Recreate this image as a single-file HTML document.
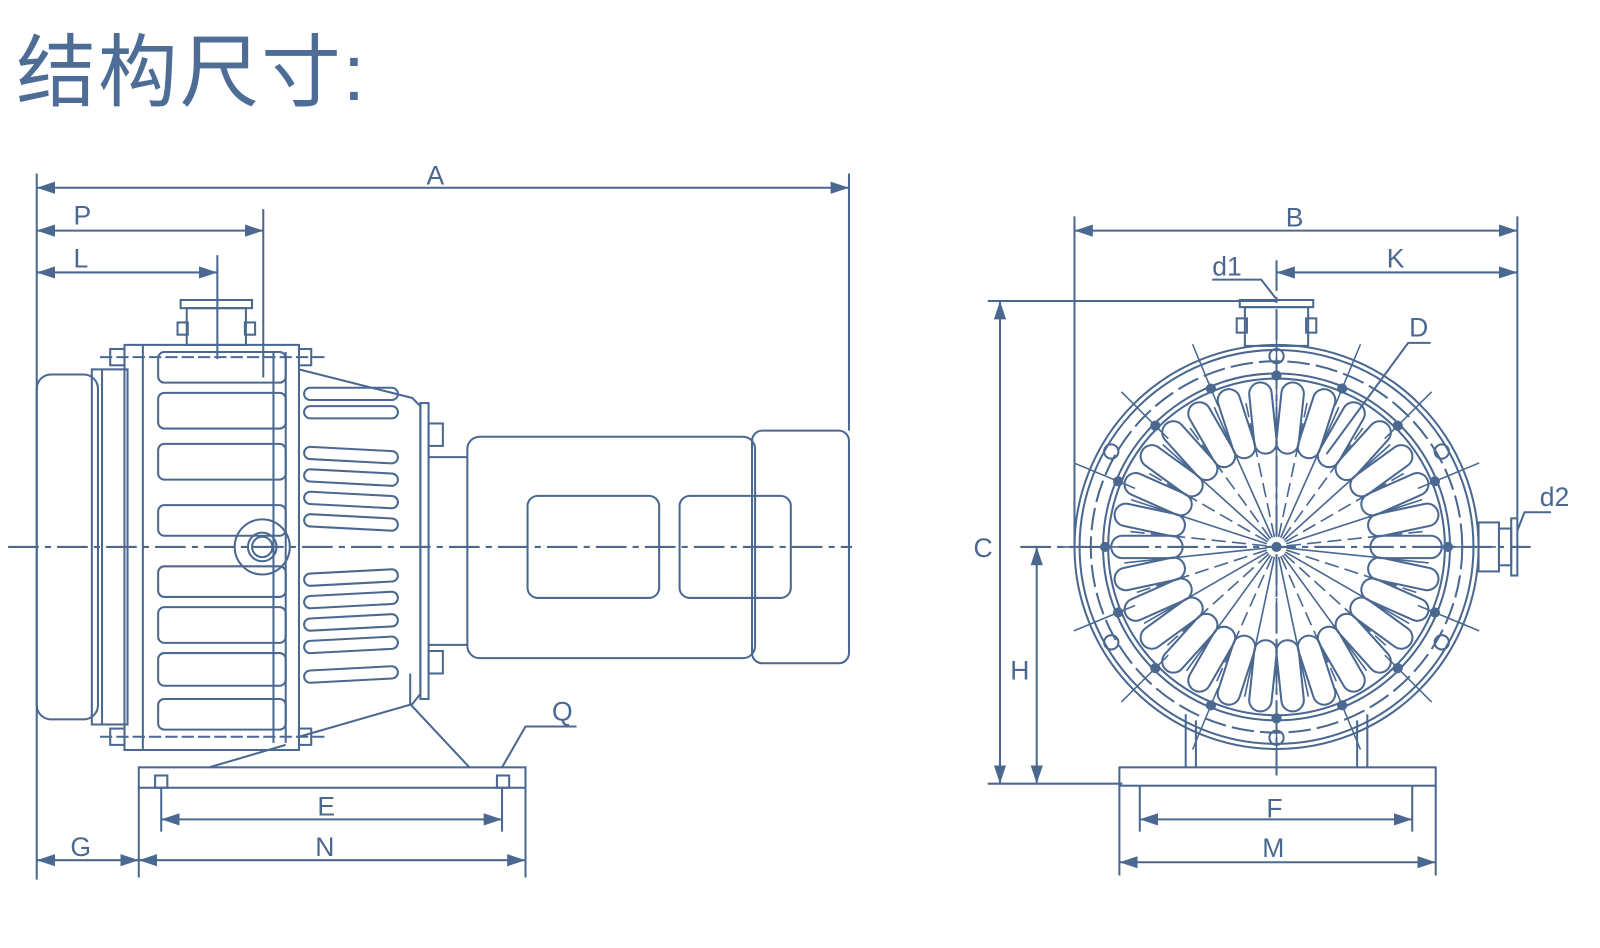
<!DOCTYPE html>
<html><head><meta charset="utf-8"><style>
html,body{margin:0;padding:0;background:#fff;width:1600px;height:948px;overflow:hidden}
#w{position:absolute;left:0;top:0;width:1568px;height:929px;transform:scale(1.0204);transform-origin:0 0}
.t{position:absolute;left:16px;top:32px;font-family:"Liberation Sans","Noto Sans CJK SC",sans-serif;font-size:78px;color:#4d6c96;letter-spacing:2px;line-height:1}
svg{position:absolute;left:0;top:0}
text{font-family:"Liberation Sans",sans-serif;font-size:26px;fill:#4a6890}
</style></head><body><div id="w">
<div class="t">结构尺寸:</div>
<svg width="1568" height="929" viewBox="0 0 1568 929">
<defs><marker id="ar" markerWidth="10" markerHeight="8" refX="9" refY="4" orient="auto-start-reverse"><path d="M0,1 L9,4 L0,7" fill="#4a6890"/></marker></defs>
<g id="g" stroke="#4a6890" stroke-width="2" fill="none">
<line x1="8" y1="536" x2="835" y2="536" stroke-dasharray="30,6,6,6"/>
<rect x="36" y="367" width="60" height="338" rx="14"/>
<rect x="90" y="362" width="35" height="348"/>
<line x1="100" y1="362" x2="100" y2="710"/>
<rect x="122" y="338" width="171" height="397"/>
<line x1="140" y1="338" x2="140" y2="735"/>
<line x1="268" y1="345" x2="268" y2="728"/>
<line x1="280" y1="345" x2="280" y2="728"/>
<rect x="108" y="342" width="14" height="16"/><rect x="293" y="342" width="12" height="16"/>
<rect x="108" y="714" width="14" height="16"/><rect x="293" y="714" width="12" height="16"/>
<line x1="98" y1="350" x2="318" y2="350" stroke-dasharray="12,4"/>
<line x1="98" y1="722" x2="318" y2="722" stroke-dasharray="12,4"/>
<rect x="177" y="294" width="70" height="8"/>
<rect x="183" y="302" width="58" height="36"/>
<rect x="174" y="316" width="10" height="12"/><rect x="240" y="316" width="10" height="12"/>
<line x1="213" y1="250" x2="213" y2="352"/>
<line x1="258" y1="205" x2="258" y2="370"/>
<circle cx="257" cy="536" r="27"/><circle cx="257" cy="536" r="14"/><circle cx="257" cy="536" r="10"/>
<path d="M293,362 L404,390 L412,398 L412,680 L404,690 L293,722"/>
<rect x="412" y="395" width="8" height="290"/>
<rect x="420" y="415" width="14" height="22"/><rect x="420" y="638" width="14" height="22"/>
<path d="M420,440 L420,448 L458,448 M420,632 L458,632"/>
<path d="M402,660 L402,690 L460,752"/>
<path d="M205,752 L280,730"/>
<rect x="458" y="428" width="282" height="217" rx="12"/>
<rect x="737" y="422" width="95" height="228" rx="10"/>
<rect x="517" y="486" width="129" height="100" rx="10"/>
<rect x="666" y="486" width="109" height="100" rx="10"/>
<rect x="136" y="752" width="379" height="20"/>
<rect x="152" y="760" width="12" height="12"/><rect x="487" y="760" width="12" height="12"/>
<line x1="515" y1="752" x2="515" y2="860"/><line x1="136" y1="772" x2="136" y2="860"/>
<line x1="158" y1="772" x2="158" y2="815"/><line x1="492" y1="772" x2="492" y2="815"/>
<line x1="36" y1="170" x2="36" y2="862"/>
<line x1="832" y1="170" x2="832" y2="422"/>
<line x1="36" y1="184" x2="832" y2="184" marker-start="url(#ar)" marker-end="url(#ar)"/>
<line x1="36" y1="226" x2="258" y2="226" marker-start="url(#ar)" marker-end="url(#ar)"/>
<line x1="36" y1="267" x2="213" y2="267" marker-start="url(#ar)" marker-end="url(#ar)"/>
<line x1="158" y1="803" x2="492" y2="803" marker-start="url(#ar)" marker-end="url(#ar)"/>
<line x1="136" y1="843" x2="515" y2="843" marker-start="url(#ar)" marker-end="url(#ar)"/>
<line x1="36" y1="843" x2="136" y2="843" marker-start="url(#ar)" marker-end="url(#ar)"/>
<path d="M492,752 L515,712 L565,712"/>
<line x1="1000" y1="536" x2="1500" y2="536" stroke-dasharray="30,6,6,6"/>
<line x1="1251" y1="255" x2="1251" y2="760" stroke-dasharray="30,6,6,6"/>
<circle cx="1251" cy="536" r="198"/>
<circle cx="1251" cy="536" r="193"/>
<circle cx="1251" cy="536" r="182" stroke-dasharray="22,6"/>
<circle cx="1251" cy="536" r="170"/>
<circle cx="1251" cy="536" r="165"/>
<circle cx="1251" cy="536" r="4" fill="#4a6890"/>
<rect x="1215" y="294" width="72" height="7"/>
<rect x="1220" y="301" width="62" height="38"/>
<rect x="1212" y="312" width="10" height="14"/><rect x="1280" y="312" width="10" height="14"/>
<rect x="1449" y="512" width="20" height="48"/><rect x="1469" y="518" width="12" height="36"/><rect x="1481" y="508" width="6" height="56"/>
<path d="M1162,700 L1162,752 M1172,706 L1172,752 M1330,706 L1330,752 M1340,700 L1340,752"/>
<rect x="1097" y="752" width="310" height="18"/>
<line x1="1097" y1="770" x2="1097" y2="858"/><line x1="1407" y1="770" x2="1407" y2="858"/>
<line x1="1117" y1="770" x2="1117" y2="815"/><line x1="1384" y1="770" x2="1384" y2="815"/>
<line x1="1053" y1="212" x2="1053" y2="536"/><line x1="1487" y1="212" x2="1487" y2="508"/>
<line x1="1053" y1="226" x2="1487" y2="226" marker-start="url(#ar)" marker-end="url(#ar)"/>
<line x1="1251" y1="267" x2="1487" y2="267" marker-start="url(#ar)" marker-end="url(#ar)"/>
<line x1="968" y1="295" x2="1250" y2="295"/>
<line x1="968" y1="768" x2="1100" y2="768"/>
<line x1="980" y1="295" x2="980" y2="768" marker-start="url(#ar)" marker-end="url(#ar)"/>
<line x1="1016" y1="536" x2="1016" y2="768" marker-start="url(#ar)" marker-end="url(#ar)"/>
<line x1="1117" y1="803" x2="1384" y2="803" marker-start="url(#ar)" marker-end="url(#ar)"/>
<line x1="1097" y1="845" x2="1407" y2="845" marker-start="url(#ar)" marker-end="url(#ar)"/>
<path d="M1188,274 L1236,274 L1250,292"/>
<path d="M1402,336 L1380,336 L1300,445"/>
<path d="M1520,502 L1494,502 L1487,520"/>
</g>
<g id="fins" stroke="#4a6890" stroke-width="2" fill="none"></g>
<text x="418" y="181">A</text><text x="72" y="220">P</text><text x="72" y="262">L</text>
<text x="311" y="799">E</text><text x="309" y="839">N</text><text x="69" y="839">G</text><text x="541" y="706">Q</text>
<text x="1260" y="222">B</text><text x="1359" y="262">K</text><text x="1188" y="270">d1</text>
<text x="1381" y="330">D</text><text x="1509" y="496">d2</text>
<text x="954" y="546">C</text><text x="990" y="666">H</text>
<text x="1241" y="801">F</text><text x="1237" y="840">M</text>
</svg></div>
<script>
var ns="http://www.w3.org/2000/svg",f=document.getElementById("fins");
function el(t,a){var e=document.createElementNS(ns,t);for(var k in a)e.setAttribute(k,a[k]);f.appendChild(e);return e;}
[[345,375],[385,420],[435,470],[495,525],[555,585],[595,630],[640,672],[685,715]].forEach(function(p){el("rect",{x:155,y:p[0],width:125,height:p[1]-p[0],rx:6});});
[[380,0],[398,0],[440,1],[462,1],[484,1],[506,1],[560,-1],[582,-1],[604,-1],[626,-1],[655,-1]].forEach(function(p){
 var y=p[0];el("rect",{x:298,y:y,width:92,height:12,rx:6,transform:"rotate("+(p[1]*3)+" 344 "+(y+6)+")"});});
var cx=1251,cy=536,n=30;
for(var i=0;i<n;i++){var a=i*360/n;
 el("rect",{x:cx+92,y:cy-11,width:70,height:22,rx:11,transform:"rotate("+a+" "+cx+" "+cy+")"});
 el("line",{x1:cx+10,y1:cy,x2:cx+150,y2:cy,"stroke-width":1.6,"stroke-dasharray":(i%2?"14,6":"none"),transform:"rotate("+(a+6)+" "+cx+" "+cy+")"});
}
for(var i=0;i<16;i++){var a=i*22.5*Math.PI/180;
 var x=cx+168*Math.cos(a),y=cy+168*Math.sin(a);
 el("circle",{cx:x,cy:y,r:4,fill:"#4a6890"});
 el("line",{x1:cx+150*Math.cos(a),y1:cy+150*Math.sin(a),x2:cx+215*Math.cos(a),y2:cy+215*Math.sin(a),"stroke-width":1.5});}
for(var i=0;i<6;i++){var a=(90+i*60)*Math.PI/180;el("circle",{cx:cx+187*Math.cos(a),cy:cy-187*Math.sin(a),r:7});}
</script>
</body></html>
